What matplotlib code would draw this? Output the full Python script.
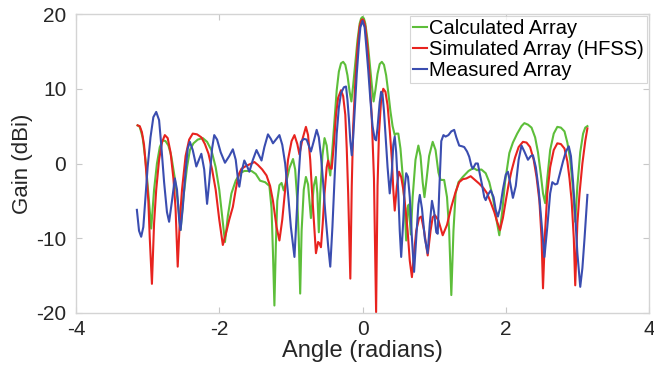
import matplotlib
matplotlib.use("Agg")
import matplotlib.pyplot as plt

# ---------------- data, (angle rad, gain dBi) ----------------
calc_pts = [
    (-3.14, 5.1), (-3.11, 4.9), (-3.07, 3.5), (-3.03, 0.5), (-2.99, -4.0), (-2.95, -8.7),
    (-2.91, -3.5), (-2.87, 0.0), (-2.83, 2.2), (-2.79, 3.1), (-2.75, 3.0), (-2.71, 2.4),
    (-2.67, 1.0), (-2.62, -2.0), (-2.58, -5.0), (-2.54, -8.9), (-2.50, -4.5), (-2.45, -0.5),
    (-2.41, 1.8), (-2.36, 2.7), (-2.30, 3.2), (-2.23, 3.4), (-2.17, 2.9), (-2.11, 1.8),
    (-2.05, -0.5), (-2.00, -3.5), (-1.96, -7.0), (-1.92, -10.5), (-1.88, -7.0), (-1.83, -4.0),
    (-1.77, -2.3), (-1.71, -1.3), (-1.65, -1.0), (-1.55, -1.0), (-1.49, -1.4), (-1.43, -2.3),
    (-1.36, -2.5), (-1.30, -3.0), (-1.27, -6.0), (-1.25, -12.0), (-1.23, -19.0), (-1.21, -11.0),
    (-1.19, -5.0), (-1.16, -2.9), (-1.13, -2.6), (-1.10, -3.6), (-1.06, -2.3), (-1.02, -0.6),
    (-0.97, 0.6), (-0.94, -0.8), (-0.91, -5.0), (-0.89, -10.0), (-0.87, -17.4), (-0.85, -9.0),
    (-0.82, -3.5), (-0.79, -1.8), (-0.76, -2.8), (-0.72, -7.3), (-0.68, -3.0), (-0.65, -1.8),
    (-0.63, -4.0), (-0.61, -9.2), (-0.59, -4.0), (-0.56, 1.0), (-0.53, 3.4), (-0.50, 2.4),
    (-0.47, -0.5), (-0.45, -1.6), (-0.42, 2.0), (-0.39, 6.0), (-0.36, 9.8), (-0.33, 12.3),
    (-0.30, 13.4), (-0.27, 13.6), (-0.24, 13.2), (-0.21, 11.8), (-0.18, 9.6), (-0.155, 8.3),
    (-0.13, 10.5), (-0.10, 13.5), (-0.07, 16.5), (-0.04, 18.7), (-0.02, 19.4), (0.00, 19.6),
    (0.02, 19.4), (0.04, 18.7), (0.07, 16.5), (0.10, 13.5), (0.13, 10.5), (0.155, 8.3),
    (0.18, 9.8), (0.21, 12.0), (0.24, 13.3), (0.27, 13.6), (0.30, 13.2), (0.33, 11.8),
    (0.36, 9.5), (0.39, 7.0), (0.42, 5.0), (0.45, 3.8), (0.47, 4.0), (0.50, 4.0),
    (0.53, 2.0), (0.56, -1.5), (0.59, -6.0), (0.61, -10.3), (0.63, -6.0), (0.645, -5.5),
    (0.66, -7.5), (0.675, -9.5), (0.70, -4.5), (0.74, 0.5), (0.78, 2.4), (0.81, 1.0),
    (0.84, -2.5), (0.865, -4.5), (0.89, -2.5), (0.93, 1.0), (0.98, 2.9), (1.02, 1.8),
    (1.06, -1.2), (1.09, -2.2), (1.14, -2.2), (1.18, -4.5), (1.21, -9.0), (1.24, -17.6),
    (1.27, -9.0), (1.30, -4.0), (1.34, -2.5), (1.40, -1.8), (1.48, -1.0), (1.55, -0.6),
    (1.60, -0.9), (1.66, -0.8), (1.72, -1.3), (1.77, -2.5), (1.82, -4.5), (1.87, -7.5),
    (1.91, -9.6), (1.95, -6.5), (1.99, -2.5), (2.05, 1.4), (2.10, 2.8), (2.16, 4.0),
    (2.22, 5.0), (2.26, 5.4), (2.31, 5.2), (2.36, 4.8), (2.41, 3.5), (2.45, 1.5),
    (2.49, -1.5), (2.52, -4.0), (2.55, -5.3), (2.58, -2.0), (2.62, 1.8), (2.67, 4.0),
    (2.72, 4.9), (2.77, 4.8), (2.82, 4.3), (2.86, 2.8), (2.90, 0.5), (2.94, -3.5),
    (2.97, -7.8), (3.00, -3.0), (3.04, 1.5), (3.08, 4.0), (3.11, 4.8), (3.14, 5.0),
]

sim_pts = [
    (-3.14, 5.1), (-3.11, 5.0), (-3.08, 4.2), (-3.05, 2.5), (-3.02, -1.0), (-2.99, -5.0),
    (-2.97, -10.0), (-2.94, -16.1), (-2.91, -8.0), (-2.88, -3.5), (-2.84, 0.5), (-2.80, 2.8),
    (-2.76, 3.8), (-2.72, 3.4), (-2.68, 1.5), (-2.64, -2.0), (-2.61, -6.0), (-2.58, -13.8),
    (-2.55, -7.5), (-2.52, -3.5), (-2.47, 1.0), (-2.42, 3.2), (-2.37, 4.0), (-2.31, 3.9),
    (-2.25, 3.5), (-2.20, 2.6), (-2.15, 1.3), (-2.10, -0.8), (-2.05, -3.5), (-2.00, -7.5),
    (-1.95, -10.9), (-1.91, -9.5), (-1.86, -7.5), (-1.81, -5.8), (-1.77, -3.5), (-1.73, -1.5),
    (-1.69, -0.7), (-1.62, -0.3), (-1.55, 0.0), (-1.51, 0.2), (-1.46, -0.2), (-1.40, -0.8),
    (-1.34, -1.6), (-1.29, -3.0), (-1.25, -5.0), (-1.20, -8.5), (-1.16, -10.3), (-1.12, -7.5),
    (-1.08, -3.5), (-1.04, 0.5), (-0.99, 3.0), (-0.95, 3.8), (-0.91, 2.6), (-0.88, 1.2),
    (-0.84, 3.2), (-0.79, 4.9), (-0.76, 3.8), (-0.73, 0.5), (-0.70, -4.5), (-0.67, -9.0),
    (-0.65, -12.0), (-0.62, -10.5), (-0.60, -10.7), (-0.58, -11.2), (-0.555, -8.0), (-0.53, -4.0),
    (-0.50, -0.5), (-0.48, 0.4), (-0.455, -0.6), (-0.43, -0.7), (-0.40, 2.5), (-0.37, 6.5),
    (-0.34, 8.8), (-0.30, 9.8), (-0.27, 9.0), (-0.24, 6.5), (-0.22, 2.0), (-0.20, -4.0),
    (-0.17, -15.4), (-0.15, -3.0), (-0.13, 5.0), (-0.10, 11.0), (-0.07, 15.5), (-0.04, 18.3),
    (-0.02, 19.1), (0.00, 19.3), (0.02, 19.1), (0.04, 18.3), (0.07, 15.5), (0.10, 11.5),
    (0.13, 6.0), (0.16, -2.0), (0.19, -19.9), (0.21, -3.0), (0.23, 4.0), (0.26, 8.5),
    (0.29, 10.0), (0.32, 9.6), (0.35, 7.8), (0.38, 4.5), (0.41, 0.5), (0.43, -3.5),
    (0.45, -6.3), (0.48, -3.0), (0.51, -1.1), (0.54, -1.8), (0.57, -3.5), (0.60, -6.0),
    (0.63, -9.0), (0.66, -13.0), (0.69, -15.2), (0.72, -12.0), (0.75, -9.0), (0.79, -7.3),
    (0.82, -7.1), (0.86, -9.0), (0.91, -12.3), (0.95, -9.0), (0.98, -7.2), (1.01, -6.9),
    (1.06, -7.6), (1.12, -9.6), (1.18, -8.2), (1.24, -5.8), (1.30, -3.8), (1.35, -2.5),
    (1.40, -2.1), (1.45, -2.0), (1.51, -1.7), (1.57, -2.2), (1.63, -2.7), (1.69, -3.3),
    (1.74, -4.0), (1.79, -5.2), (1.84, -6.5), (1.88, -7.8), (1.92, -8.9), (1.96, -7.3),
    (2.00, -5.0), (2.04, -2.8), (2.08, -1.0), (2.13, 0.8), (2.18, 2.2), (2.24, 2.9),
    (2.29, 2.8), (2.34, 2.2), (2.39, 0.5), (2.43, -1.8), (2.47, -5.0), (2.50, -10.0),
    (2.52, -16.7), (2.55, -9.0), (2.58, -4.0), (2.62, -0.5), (2.67, 1.8), (2.72, 2.7),
    (2.77, 2.6), (2.82, 2.0), (2.86, 0.3), (2.89, -2.0), (2.92, -5.0), (2.95, -10.0),
    (2.97, -16.3), (3.00, -8.0), (3.03, -4.0), (3.07, 0.0), (3.11, 3.0), (3.14, 4.7),
]

meas_pts = [
    (-3.15, -6.2), (-3.12, -9.0), (-3.09, -9.8), (-3.06, -8.5), (-3.03, -4.5), (-3.00, -0.5),
    (-2.96, 3.5), (-2.92, 6.2), (-2.88, 6.9), (-2.84, 5.8), (-2.81, 2.5), (-2.77, -2.5),
    (-2.73, -6.5), (-2.70, -7.8), (-2.66, -5.0), (-2.62, -2.0), (-2.59, -3.5), (-2.56, -7.5),
    (-2.54, -8.9), (-2.51, -6.0), (-2.47, -1.0), (-2.44, 2.0), (-2.41, 2.9), (-2.37, 1.8),
    (-2.32, -0.4), (-2.28, 0.6), (-2.25, 1.3), (-2.21, -0.8), (-2.17, -5.4), (-2.14, -2.5),
    (-2.10, 2.0), (-2.07, 3.8), (-2.03, 3.2), (-1.98, 1.5), (-1.92, 0.1), (-1.86, 1.0),
    (-1.81, 1.9), (-1.77, 0.5), (-1.74, -2.0), (-1.72, -3.1), (-1.69, -1.2), (-1.65, 0.4),
    (-1.61, -0.4), (-1.58, -1.1), (-1.53, 0.5), (-1.48, 1.8), (-1.44, 1.0), (-1.41, 0.4),
    (-1.37, 2.2), (-1.32, 3.9), (-1.28, 3.3), (-1.25, 2.7), (-1.20, 3.3), (-1.16, 3.8),
    (-1.12, 2.5), (-1.08, 0.0), (-1.04, -4.0), (-1.00, -8.5), (-0.95, -12.5), (-0.92, -7.0),
    (-0.89, -1.5), (-0.86, 2.9), (-0.82, 3.3), (-0.78, 3.2), (-0.75, 2.4), (-0.72, 1.6),
    (-0.68, 3.0), (-0.64, 4.5), (-0.61, 3.5), (-0.58, 1.0), (-0.55, -2.5), (-0.52, -6.5),
    (-0.48, -11.0), (-0.45, -13.8), (-0.42, -8.5), (-0.39, -2.0), (-0.36, 4.0), (-0.33, 7.5),
    (-0.30, 9.4), (-0.26, 10.2), (-0.23, 10.3), (-0.21, 8.5), (-0.19, 6.0), (-0.17, 3.0),
    (-0.15, 1.1), (-0.13, 3.5), (-0.11, 7.0), (-0.08, 12.0), (-0.05, 16.0), (-0.03, 18.2),
    (0.00, 19.1), (0.03, 18.2), (0.05, 16.0), (0.08, 12.5), (0.11, 8.5), (0.14, 5.0),
    (0.17, 3.3), (0.19, 3.1), (0.21, 4.8), (0.24, 8.2), (0.26, 9.6), (0.28, 9.2),
    (0.30, 7.0), (0.32, 4.0), (0.35, -0.5), (0.38, -4.0), (0.41, -1.0), (0.43, 2.5),
    (0.45, 3.6), (0.47, 1.5), (0.50, -4.0), (0.52, -9.0), (0.54, -12.5), (0.57, -7.5),
    (0.59, -3.0), (0.61, -1.3), (0.635, -1.8), (0.66, -4.5), (0.69, -10.0), (0.72, -14.5),
    (0.75, -10.0), (0.78, -5.5), (0.80, -4.2), (0.83, -6.0), (0.87, -10.0), (0.91, -12.0),
    (0.94, -8.0), (0.97, -5.0), (1.00, -6.5), (1.03, -9.2), (1.05, -9.4), (1.07, -4.0),
    (1.10, 3.0), (1.13, 3.8), (1.16, 3.6), (1.20, 3.8), (1.24, 4.3), (1.28, 4.5),
    (1.31, 3.5), (1.35, 2.4), (1.39, 2.3), (1.42, 2.2), (1.46, 1.6), (1.49, 0.9),
    (1.52, -0.3), (1.54, -0.7), (1.58, 0.0), (1.61, 0.0), (1.64, -1.5), (1.67, -2.9),
    (1.70, -4.5), (1.72, -4.9), (1.75, -4.2), (1.79, -3.6), (1.83, -4.5), (1.86, -6.2),
    (1.89, -7.1), (1.92, -6.0), (1.96, -3.5), (2.00, -1.5), (2.03, -1.1), (2.06, -2.5),
    (2.10, -4.6), (2.14, -3.0), (2.18, 0.5), (2.22, 2.4), (2.26, 1.6), (2.31, 0.5),
    (2.35, 1.0), (2.38, 1.1), (2.42, -0.5), (2.46, -3.5), (2.50, -8.0), (2.54, -12.5),
    (2.58, -8.5), (2.62, -4.0), (2.65, -2.5), (2.69, -2.8), (2.72, -2.7), (2.76, -1.2),
    (2.80, 0.3), (2.84, 1.6), (2.88, 2.3), (2.91, 1.0), (2.94, -2.5), (2.97, -7.0),
    (3.00, -12.0), (3.04, -16.5), (3.07, -14.0), (3.10, -10.0), (3.12, -7.0), (3.14, -4.2),
]

calc_x = [p[0] for p in calc_pts]
calc_y = [p[1] for p in calc_pts]
sim_x = [p[0] for p in sim_pts]
sim_y = [p[1] for p in sim_pts]
meas_x = [p[0] for p in meas_pts]
meas_y = [p[1] for p in meas_pts]

labels = ["Calculated Array", "Simulated Array (HFSS)", "Measured Array"]
xticks = [-4, -2, 0, 2, 4]
yticks = [-20, -10, 0, 10, 20]

# ---------------- figure ----------------
plt.rcParams['font.family'] = ['Liberation Sans', 'DejaVu Sans']
plt.rcParams['axes.unicode_minus'] = False
fig = plt.figure(figsize=(6.54, 3.78), dpi=100)
ax = fig.add_axes([76/654, 1 - 313/378, (649-76)/654, (313-14)/378])

c_green = '#5dbe3a'
c_red = '#e8231f'
c_blue = '#3a4db0'
lw = 1.5
for xs, ys, c, lab in [(calc_x, calc_y, c_green, labels[0]),
                       (sim_x, sim_y, c_red, labels[1]),
                       (meas_x, meas_y, c_blue, labels[2])]:
    ax.plot(xs, ys, color=c, lw=lw, label=lab, solid_joinstyle='round')

ax.set_xlim(-4, 4)
ax.set_ylim(-20, 20)
ax.set_xticks(xticks)
ax.set_yticks(yticks)
ax.tick_params(direction='in', length=4, width=0.8, color='#c8c8c8',
               labelsize=15, labelcolor='#262626', top=True, right=True)
ax.tick_params(axis='x', pad=5)
ax.tick_params(axis='y', pad=7)
for s in ax.spines.values():
    s.set_color('#d4d4d4')
    s.set_linewidth(1.0)

ax.set_xlabel("Angle (radians)", fontsize=17, color='#262626', labelpad=1)
ax.set_ylabel("Gain (dBi)", fontsize=16, color='#262626', labelpad=2)

leg = ax.legend(loc='upper right', fontsize=14.5, frameon=True, fancybox=False,
                handlelength=0.7, handletextpad=0.1, borderpad=0.15,
                labelspacing=0.1, borderaxespad=0.1, edgecolor='#cccccc')
leg.get_frame().set_linewidth(0.8)

fig.savefig("out.png", dpi=100)
